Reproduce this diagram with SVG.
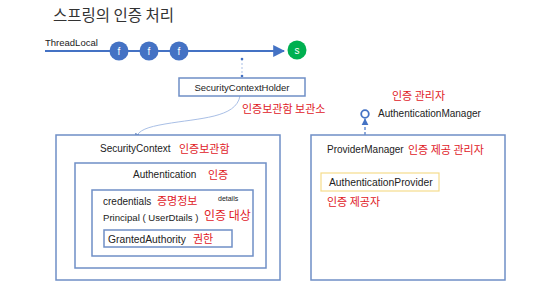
<svg xmlns="http://www.w3.org/2000/svg" width="542" height="302" viewBox="0 0 542 302">
<defs>
<style>
.t{font-family:"Liberation Sans","Noto Sans CJK KR",sans-serif;fill:#222;}
.r{font-family:"Noto Sans CJK KR",sans-serif;fill:#e0201f;}
.box{fill:#fff;stroke:#6f8fc6;stroke-width:1.5;}
.f{fill:#4472c4;}
.ft{font-family:"Liberation Sans",sans-serif;font-size:10px;fill:#fff;text-anchor:middle;}
</style>
<marker id="ah" viewBox="0 0 10 10" refX="9" refY="5" markerWidth="6" markerHeight="6" orient="auto"><path d="M0,0L10,5L0,10z" fill="#4472c4"/></marker>
<marker id="ah2" viewBox="0 0 10 10" refX="9" refY="5" markerWidth="5" markerHeight="5" orient="auto"><path d="M0,0L10,5L0,10z" fill="#6f8fc6"/></marker>
</defs>
<rect width="542" height="302" fill="#fff"/>
<text x="53" y="21" font-family="Noto Sans CJK KR,sans-serif" font-size="15.5" fill="#333">스프링의 인증 처리</text>

<g id="connectors">
<line x1="45" y1="51" x2="284" y2="51" stroke="#4472c4" stroke-width="2" marker-end="url(#ah)"/>
<line x1="242" y1="59" x2="242" y2="77" stroke="#a9bfe6" stroke-width="1" stroke-dasharray="2,2"/>
<circle cx="242" cy="59" r="1.3" fill="#4472c4"/>
<circle cx="242" cy="76" r="1.3" fill="#4472c4"/>
<path d="M240,96 C236,118 200,118 165,124 C148,127 138,130 136,138" fill="none" stroke="#a9bfe6" stroke-width="1" marker-end="url(#ah2)"/>
<line x1="365" y1="135" x2="365" y2="119" stroke="#4472c4" stroke-width="1.2" stroke-dasharray="3,2" marker-end="url(#ah)"/>
</g>

<g id="threadlocal">
<text class="t" x="45" y="46" font-size="9.5">ThreadLocal</text>
<circle class="f" cx="119" cy="51" r="9.5"/><text class="ft" x="119" y="54.5">f</text>
<circle class="f" cx="149" cy="51" r="9.5"/><text class="ft" x="149" y="54.5">f</text>
<circle class="f" cx="179" cy="51" r="9.5"/><text class="ft" x="179" y="54.5">f</text>
<circle cx="297" cy="50" r="9.5" fill="#00b050"/><text class="ft" x="297" y="53.5">s</text>
</g>

<g id="holder">
<rect class="box" x="179" y="78" width="126" height="18"/>
<text class="t" x="242" y="90.5" font-size="9.5" text-anchor="middle">SecurityContextHolder</text>
<text class="r" x="242" y="113" font-size="11">인증보관함 보관소</text>
</g>

<g id="securitycontext">
<rect class="box" x="56" y="135" width="224" height="145"/>
<text class="t" x="100" y="152" font-size="10">SecurityContext</text>
<text class="r" x="179" y="153" font-size="11">인증보관함</text>
</g>
<g id="authentication">
<rect class="box" x="75" y="163" width="191" height="105"/>
<text class="t" x="133" y="178" font-size="10">Authentication</text>
<text class="r" x="208" y="179" font-size="11">인증</text>
</g>
<g id="details">
<rect class="box" x="92" y="190" width="161" height="66"/>
<text class="t" x="103" y="205" font-size="10">credentials</text>
<text class="r" x="157" y="205" font-size="11">증명정보</text>
<text class="t" x="218" y="201" font-size="7">details</text>
<text class="t" x="103" y="221" font-size="9.6">Principal ( UserDtails )</text>
<text class="r" x="204" y="220" font-size="12">인증 대상</text>
</g>
<g id="granted">
<rect class="box" x="104" y="230" width="128" height="17"/>
<text class="t" x="108" y="243" font-size="10.3">GrantedAuthority</text>
<text class="r" x="193" y="243" font-size="11">권한</text>
</g>

<g id="authmanager">
<text class="r" x="392" y="100" font-size="11">인증 관리자</text>
<circle cx="365" cy="114" r="3.8" fill="#fff" stroke="#4472c4" stroke-width="1.8"/>
<text class="t" x="378" y="117" font-size="10">AuthenticationManager</text>
</g>

<g id="providermanager">
<rect class="box" x="311" y="135" width="194" height="145"/>
<text class="t" x="327" y="153" font-size="10">ProviderManager</text>
<text class="r" x="408" y="154" font-size="11">인증 제공 관리자</text>
</g>
<g id="provider">
<rect x="321" y="173" width="118" height="18" fill="#fff" stroke="#f5dc8c" stroke-width="1.2"/>
<text class="t" x="329" y="186" font-size="10.3">AuthenticationProvider</text>
<text class="r" x="327" y="206" font-size="11">인증 제공자</text>
</g>
</svg>
